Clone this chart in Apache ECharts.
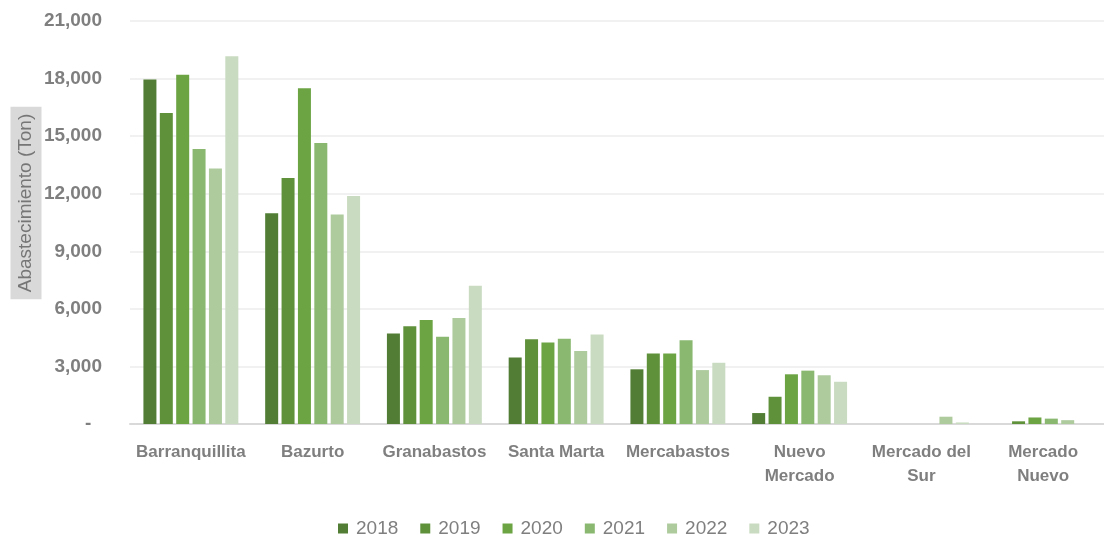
<!DOCTYPE html>
<html>
<head>
<meta charset="utf-8">
<script src="https://cdn.jsdelivr.net/npm/echarts@6/dist/echarts.min.js"></script>
<style>
  html, body { margin: 0; padding: 0; background: #fff; }
  #chart { width: 1104px; height: 535px; }
</style>
</head>
<body>
<div id="chart"></div>
<script>
// mercados (categorias del eje x)
var mercados = ['Barranquillita', 'Bazurto', 'Granabastos', 'Santa Marta', 'Mercabastos',
  'Nuevo\nMercado', 'Mercado del\nSur', 'Mercado\nNuevo'];
var anios = ['2018', '2019', '2020', '2021', '2022', '2023'];

// abastecimiento en toneladas, por año
var v2018 = [17950, 10980, 4720, 3470, 2850, 570, 0, 0];
var v2019 = [16200, 12820, 5100, 4410, 3680, 1420, 0, 140];
var v2020 = [18200, 17500, 5420, 4250, 3680, 2590, 0, 340];
var v2021 = [14330, 14640, 4550, 4440, 4360, 2780, 0, 280];
var v2022 = [13320, 10920, 5520, 3800, 2810, 2540, 380, 200];
var v2023 = [19160, 11880, 7210, 4670, 3190, 2200, 80, 0];

var colores = ['#517e34', '#5f913b', '#6ca444', '#8ab870', '#aecb9e', '#c9dbc0'];

var chart = echarts.init(document.getElementById('chart'));
var valores = [v2018, v2019, v2020, v2021, v2022, v2023];
var series = [];
for (var i = 0; i < anios.length; i++) {
  series.push({
    name: anios[i],
    type: 'bar',
    data: valores[i],
    barWidth: 13,
    barGap: '26%',
    itemStyle: { color: colores[i] }
  });
}

var option = {
  animation: false,
  textStyle: { fontFamily: 'Liberation Sans, Arial, sans-serif' },
  grid: { left: 130, top: 21, width: 983, bottom: 111 },
  legend: {
    data: anios,
    left: 333,
    top: 514,
    icon: 'rect',
    itemWidth: 10,
    itemHeight: 10,
    itemGap: 22,
    textStyle: { color: '#7f7f7f', fontSize: 19, padding: [0, 0, 0, 3] }
  },
  xAxis: {
    type: 'category',
    data: mercados,
    axisTick: { show: false },
    axisLine: { lineStyle: { color: '#d9d9d9', width: 2 } },
    axisLabel: {
      interval: 0, margin: 16, color: '#7f7f7f', fontSize: 17, fontWeight: 'bold',
      lineHeight: 24, verticalAlign: 'top'
    }
  },
  yAxis: {
    type: 'value',
    min: 0, max: 21000, interval: 3000,
    axisLine: { show: false },
    axisTick: { show: false },
    splitLine: { lineStyle: { color: '#ececec', width: 1.5 } },
    axisLabel: {
      margin: 28, color: '#7f7f7f', fontSize: 19, fontWeight: 'bold',
      formatter: function (v) {
        if (v === 0) return '-  ';
        return v.toLocaleString('en-US');
      }
    }
  },
  graphic: [{
    type: 'text',
    x: 26,
    y: 203,
    rotation: Math.PI / 2,
    style: {
      text: 'Abastecimiento (Ton)',
      fill: '#767676',
      fontSize: 19,
      fontFamily: 'Liberation Sans, Arial, sans-serif',
      align: 'center',
      verticalAlign: 'middle',
      backgroundColor: '#d9d9d9',
      padding: [7, 7, 5, 7]
    }
  }],
  series: series
};
chart.setOption(option);
</script>
</body>
</html>
